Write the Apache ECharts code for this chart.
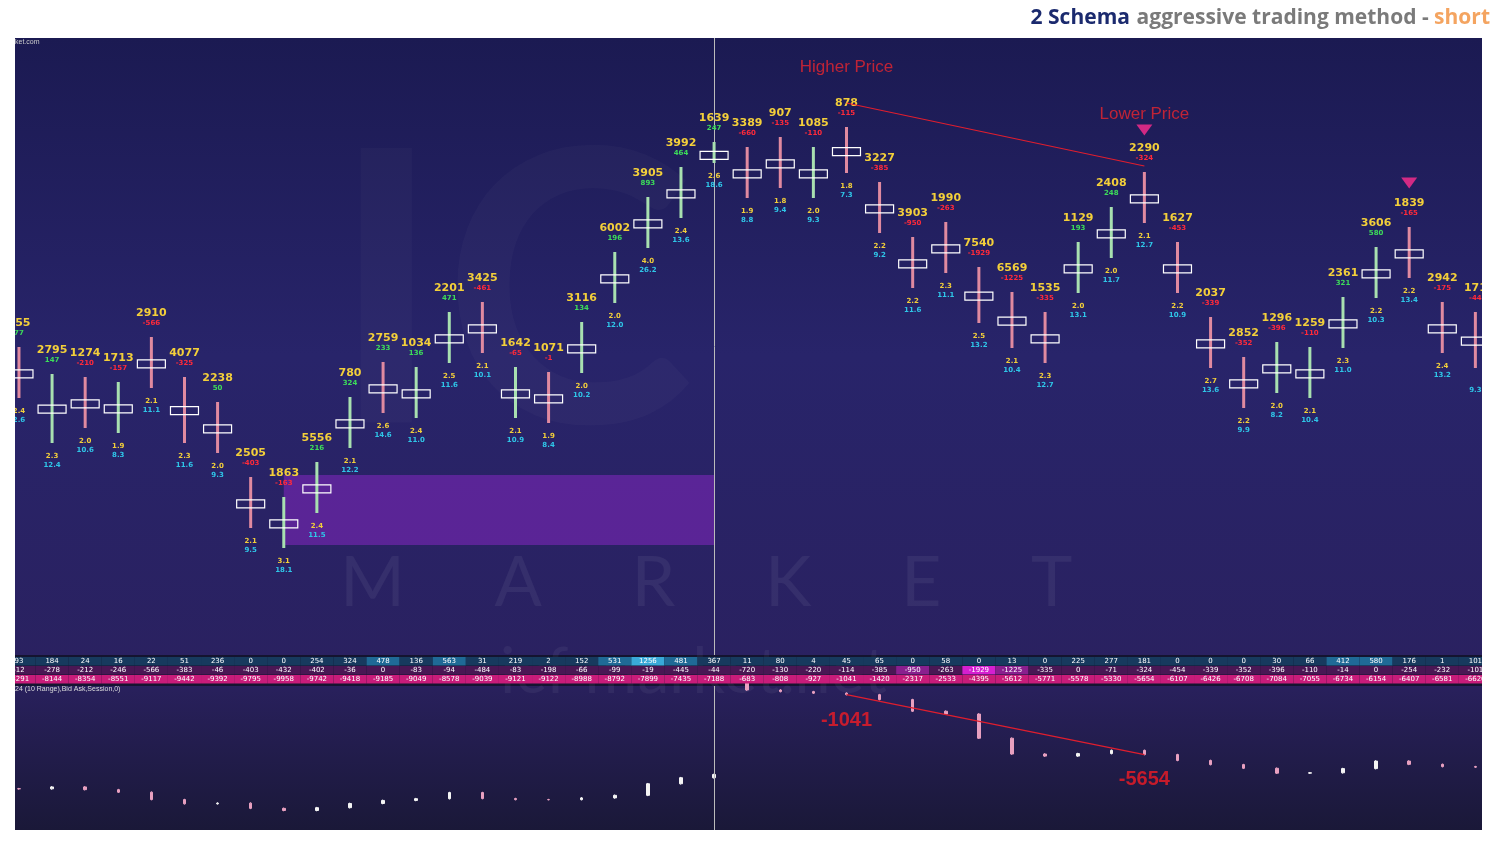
<!DOCTYPE html>
<html><head><meta charset="utf-8">
<script src="https://cdn.jsdelivr.net/npm/echarts@6/dist/echarts.min.js"></script>
<style>html,body{margin:0;background:#fff}#c{width:1500px;height:841px}</style>
</head><body><div id="c"></div>
<script>
// footprint columns (price levels in chart units)
const volumes=['755','2795','1274','1713','2910','4077','2238','2505','1863','5556','780','2759','1034','2201','3425','1642','1071','3116','6002','3905','3992','1639','3389','907','1085','878','3227','3903','1990','7540','6569','1535','1129','2408','2290','1627','2037','2852','1296','1259','2361','3606','1839','2942','171'];
const deltas=[77,147,-210,-157,-566,-325,50,-403,-163,216,324,233,136,471,-461,-65,-1,134,196,893,464,247,-660,-135,-110,-115,-385,-950,-263,-1929,-1225,-335,193,248,-324,-453,-339,-352,-396,-110,321,580,-165,-175,-44];
const highs=[313,286,283,278,323,283,258,183,163,198,263,298,293,348,358,293,288,338,408,463,493,518,513,523,513,533,478,423,438,393,368,348,418,453,488,418,343,303,318,313,363,413,433,358,348];
const lows=[262,217,232,227,272,217,207,132,112,147,212,247,242,297,307,242,237,287,357,412,442,497,462,472,462,487,427,372,387,337,312,297,367,402,437,367,292,252,267,262,312,362,382,307,292];
const upBar=[0,1,0,1,0,0,0,0,1,1,1,0,1,1,0,1,0,1,1,1,1,1,0,0,1,0,0,0,0,0,0,0,1,1,0,0,0,0,1,1,1,1,0,0,0];
const ratioA=['2.4','2.3','2.0','1.9','2.1','2.3','2.0','2.1','3.1','2.4','2.1','2.6','2.4','2.5','2.1','2.1','1.9','2.0','2.0','4.0','2.4','2.6','1.9','1.8','2.0','1.8','2.2','2.2','2.3','2.5','2.1','2.3','2.0','2.0','2.1','2.2','2.7','2.2','2.0','2.1','2.3','2.2','2.2','2.4',''];
const ratioB=['2.6','12.4','10.6','8.3','11.1','11.6','9.3','9.5','18.1','11.5','12.2','14.6','11.0','11.6','10.1','10.9','8.4','10.2','12.0','26.2','13.6','18.6','8.8','9.4','9.3','7.3','9.2','11.6','11.1','13.2','10.4','12.7','13.1','11.7','12.7','10.9','13.6','9.9','8.2','10.4','11.0','10.3','13.4','13.2','9.3'];
// bottom strip rows
const row1=[93,184,24,16,22,51,236,0,0,254,324,478,136,563,31,219,2,152,531,1256,481,367,11,80,4,45,65,0,58,0,13,0,225,277,181,0,0,0,30,66,412,580,176,1,101];
const row2=[-12,-278,-212,-246,-566,-383,-46,-403,-432,-402,-36,0,-83,-94,-484,-83,-198,-66,-99,-19,-445,-44,-720,-130,-220,-114,-385,-950,-263,-1929,-1225,-335,0,-71,-324,-454,-339,-352,-396,-110,-14,0,-254,-232,-101];
const cumDelta=[-8291,-8144,-8354,-8551,-9117,-9442,-9392,-9795,-9958,-9742,-9418,-9185,-9049,-8578,-9039,-9121,-9122,-8988,-8792,-7899,-7435,-7188,-683,-808,-927,-1041,-1420,-2317,-2533,-4395,-5612,-5771,-5578,-5330,-5654,-6107,-6426,-6708,-7084,-7055,-6734,-6154,-6407,-6581,-6620];
const sessionStart=[0,22];

const fp=volumes.map((v,i)=>[i,highs[i],lows[i],upBar[i]]);
const strip=[];
row1.forEach((v,i)=>strip.push([i,2,v,1]));
row2.forEach((v,i)=>strip.push([i,1,v,2]));
cumDelta.forEach((v,i)=>strip.push([i,0,v,3]));
const candles=cumDelta.map((c,i)=>{const o=sessionStart.includes(i)?c-row2[i]:cumDelta[i-1];return [o,c,Math.min(o,c)-60,Math.max(o,c)+60];});

const xCommon={type:'value',min:-0.12,max:44.2,show:false};
function stripColor(v,r){
  if(r===1){if(v>=1000)return '#39a9d8';if(v>=400)return '#1f6a96';return '#173a5e';}
  if(r===2){if(v<=-1500)return '#d51fd0';if(v<=-900)return '#8a1f8e';return '#4a1754';}
  return '#c81c7a';
}
const chart=echarts.init(document.getElementById('c'));
chart.setOption({
  animation:false,
  backgroundColor:'#ffffff',
  graphic:[
    {type:'rect',shape:{x:15,y:38,width:1467,height:792},style:{fill:new echarts.graphic.LinearGradient(0,0,0,1,[{offset:0,color:'#1b1a52'},{offset:0.4,color:'#28246a'},{offset:0.8,color:'#2a2160'},{offset:1,color:'#1a1838'}])},z:-10},
    {type:'rect',shape:{x:15,y:655,width:1467,height:31},style:{fill:'#141430'},z:-9},
    {type:'text',left:340,top:548,style:{text:'M     A     R     K     E     T',fill:'rgba(255,255,255,0.06)',font:'70px Lato'},z:-5},
    {type:'text',left:500,top:640,style:{text:'icf market.net',fill:'rgba(255,255,255,0.05)',font:'64px Lato'},z:-5},
    {type:'text',left:330,top:110,style:{text:'IC',fill:'rgba(255,255,255,0.025)',font:'bold 380px Lato'},z:-5},
    {type:'text',left:15,top:39,style:{text:'ket.com',fill:'#ccc',font:'7px sans-serif'}},
    {type:'text',left:15,top:686,style:{text:'24 (10 Range),Bid Ask,Session,0)',fill:'#ddd',font:'7px sans-serif'}},
    {type:'text',right:10,top:8,style:{rich:{a:{fill:'#1b2a6e',font:'bold 21px "Open Sans"'},b:{fill:'#7a7a7a',font:'bold 21px "Open Sans"'},c:{fill:'#f4a460',font:'bold 21px "Open Sans"'}},text:'{a|2 Schema}  {b|aggressive trading method - }{c|short}'}}
  ],
  grid:[
    {left:15,right:18,top:38,height:617},
    {left:15,right:18,top:657,height:27},
    {left:15,right:18,top:686,height:144}
  ],
  xAxis:[Object.assign({gridIndex:0},xCommon),Object.assign({gridIndex:1},xCommon),Object.assign({gridIndex:2},xCommon)],
  yAxis:[
    {gridIndex:0,type:'value',min:5,max:622,show:false},
    {gridIndex:1,type:'value',min:-0.5,max:2.5,show:false},
    {gridIndex:2,type:'value',min:-11460,max:-375,show:false}
  ],
  series:[
    {type:'custom',xAxisIndex:0,yAxisIndex:0,data:fp,z:5,clip:true,
     renderItem:(p,api)=>{
       const i=api.value(0);const t=api.coord([i,api.value(1)]);const b=api.coord([i,api.value(2)]);
       const up=api.value(3)===1;const col=up?'#a8e0b0':'#e08aa0';
       const d=deltas[i];
       const boxY=t[1]+(b[1]-t[1])*0.45;
       return {type:'group',children:[
         {type:'rect',shape:{x:t[0]-1.5,y:t[1],width:3,height:b[1]-t[1]},style:{fill:col}},
         {type:'rect',shape:{x:t[0]-14,y:boxY,width:28,height:8},style:{fill:'rgba(0,0,0,0)',stroke:'#fff',lineWidth:1.2}},
         {type:'text',x:t[0],y:t[1]-24,style:{text:volumes[i],fill:'#f3cf3a',font:'bold 11px "DejaVu Sans"',align:'center',verticalAlign:'middle'}},
         {type:'text',x:t[0],y:t[1]-14,style:{text:String(d),fill:d>=0?'#3ddc5a':'#ff2a3a',font:'bold 7px "DejaVu Sans"',align:'center',verticalAlign:'middle'}},
         {type:'text',x:t[0],y:b[1]+13,style:{text:ratioA[i],fill:'#f3cf3a',font:'bold 7px "DejaVu Sans"',align:'center',verticalAlign:'middle'}},
         {type:'text',x:t[0],y:b[1]+22,style:{text:ratioB[i],fill:'#2fc6e8',font:'bold 7px "DejaVu Sans"',align:'center',verticalAlign:'middle'}}
       ]};
     },
     markArea:{silent:true,itemStyle:{color:'rgba(150,40,210,0.45)'},data:[[{coord:[8,115]},{coord:[21,185]}]]},
     markLine:{silent:true,symbol:'none',label:{show:false},lineStyle:{color:'#bbb',width:1,type:'solid'},data:[{xAxis:21}]}
    },
    {type:'line',xAxisIndex:0,yAxisIndex:0,data:[[25,highs[25]+24],[34,highs[34]+6]],symbol:'none',lineStyle:{color:'#e01e2e',width:1.2},z:6},
    {type:'scatter',xAxisIndex:0,yAxisIndex:0,data:[[25,highs[25]+60,'Higher Price'],[34,highs[34]+58,'Lower Price']],symbolSize:0,
     label:{show:true,formatter:p=>p.data[2],color:'#e8262e',fontSize:17,fontFamily:'Arial'},z:6},
    {type:'scatter',xAxisIndex:0,yAxisIndex:0,data:[[34,highs[34]+42],[42,highs[42]+44]],symbol:'triangle',symbolRotate:180,symbolSize:[16,11],itemStyle:{color:'#ff2d8f'},z:6},
    {type:'custom',xAxisIndex:1,yAxisIndex:1,data:strip,z:5,clip:true,
     renderItem:(p,api)=>{
       const i=api.value(0),r=api.value(1),v=api.value(2),k=api.value(3);
       const c=api.coord([i,r]);const w=api.size([1,1]);
       const x0=Math.max(15,c[0]-w[0]/2),x1=Math.min(1482,c[0]+w[0]/2);
       return {type:'group',children:[
         {type:'rect',shape:{x:x0,y:c[1]-w[1]/2,width:x1-x0,height:w[1]-0.5},style:{fill:stripColor(v,k)}},
         {type:'text',x:c[0],y:c[1],style:{text:String(v),fill:'#fff',font:'7px "DejaVu Sans"',align:'center',verticalAlign:'middle'}}
       ]};
     }},
    {type:'candlestick',xAxisIndex:2,yAxisIndex:2,data:candles.map((c,i)=>[i].concat(c)),encode:{x:0,y:[1,2,3,4]},barWidth:3,
     itemStyle:{color:'#f4f4f4',color0:'#e8a0c0',borderColor:'#f4f4f4',borderColor0:'#e8a0c0'},
     markLine:{silent:true,symbol:'none',label:{show:false},lineStyle:{color:'#bbb',width:1,type:'solid'},data:[{xAxis:21}]}},
    {type:'line',xAxisIndex:2,yAxisIndex:2,data:[[25,cumDelta[25]],[34,cumDelta[34]]],symbol:'none',lineStyle:{color:'#e01e2e',width:1.2},z:6},
    {type:'scatter',xAxisIndex:2,yAxisIndex:2,data:[[25,cumDelta[25]-2000],[34,cumDelta[34]-1950]],symbolSize:0,
     label:{show:true,formatter:p=>String(cumDelta[p.data[0]]),color:'#f01c24',fontSize:20,fontWeight:'bold',fontFamily:'Arial'},z:6}
  ]
});
</script></body></html>
